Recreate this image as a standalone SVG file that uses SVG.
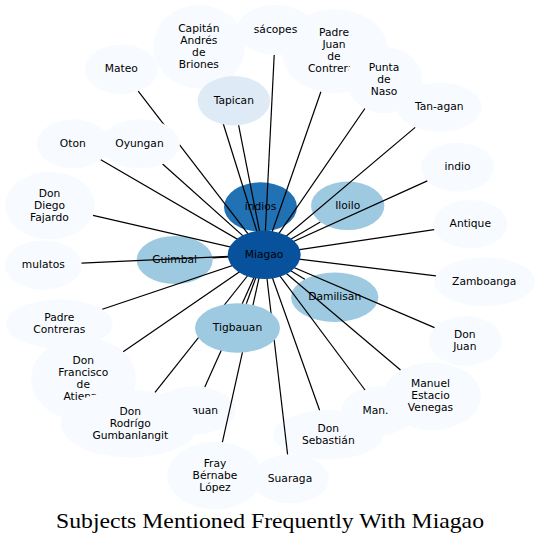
<svg xmlns="http://www.w3.org/2000/svg" width="540" height="544" viewBox="0 0 540 544">
<style>
.n text{font-family:"DejaVu Sans",Verdana,sans-serif;font-size:10.7px;fill:#000;text-anchor:middle}
.l{fill:#f7fbff}
.t{fill:#deebf7}
.m{fill:#9ecae1}
.d{fill:#2171b5}
.h{fill:#08519c}
#edges line{stroke:#000;stroke-width:1.2}
.title{font-family:"Liberation Serif","Times New Roman",serif;font-size:21px;fill:#000;text-anchor:middle}
</style>
<rect width="540" height="544" fill="#fff"/>
<g id="node-padre-juan" class="n"><ellipse class="l" cx="335" cy="51.3" rx="53.3" ry="42"/><text x="334" y="36.3">Padre</text><text x="334" y="48.3">Juan</text><text x="334" y="60.3">de</text><text x="334" y="72.3">Contreras</text></g>
<g id="node-sacopes" class="n"><ellipse class="l" cx="275.5" cy="30" rx="39" ry="25"/><text x="275.5" y="33">sácopes</text></g>
<g id="node-capitan" class="n"><ellipse class="l" cx="199.2" cy="46.8" rx="45.8" ry="41.8"/><text x="198.8" y="31.8">Capitán</text><text x="198.8" y="43.8">Andrés</text><text x="198.8" y="55.8">de</text><text x="198.8" y="67.8">Briones</text></g>
<g id="node-punta" class="n"><ellipse class="l" cx="384.5" cy="80" rx="37.8" ry="33.3"/><text x="384" y="71">Punta</text><text x="384" y="83">de</text><text x="384" y="95">Naso</text></g>
<g id="node-tan-agan" class="n"><ellipse class="l" cx="439.2" cy="107.2" rx="42.5" ry="24.5"/><text x="439.2" y="110.2">Tan-agan</text></g>
<g id="node-indio" class="n"><ellipse class="l" cx="457.5" cy="167.2" rx="36.5" ry="24.5"/><text x="457.5" y="170.2">indio</text></g>
<g id="node-antique" class="n"><ellipse class="l" cx="470.3" cy="224.2" rx="37" ry="24.2"/><text x="470.3" y="227.2">Antique</text></g>
<g id="node-zamboanga" class="n"><ellipse class="l" cx="484.7" cy="281.7" rx="50.3" ry="24.3"/><text x="484.2" y="284.7">Zamboanga</text></g>
<g id="node-don-juan" class="n"><ellipse class="l" cx="465.3" cy="340.8" rx="36.3" ry="24.8"/><text x="464.8" y="337.8">Don</text><text x="464.8" y="349.8">Juan</text></g>
<g id="node-man" class="n"><ellipse class="l" cx="378" cy="411" rx="36.5" ry="24.5"/><text x="375.5" y="414">Man.</text></g>
<g id="node-manuel" class="n"><ellipse class="l" cx="432" cy="396.2" rx="48.8" ry="33.8"/><text x="430.5" y="387.2">Manuel</text><text x="430.5" y="399.2">Estacio</text><text x="430.5" y="411.2">Venegas</text></g>
<g id="node-don-sebastian" class="n"><ellipse class="l" cx="328.3" cy="434.7" rx="55" ry="24.7"/><text x="328.3" y="431.7">Don</text><text x="328.3" y="443.7">Sebastián</text></g>
<g id="node-suaraga" class="n"><ellipse class="l" cx="290.5" cy="478.8" rx="38.5" ry="24.5"/><text x="290" y="481.8">Suaraga</text></g>
<g id="node-fray" class="n"><ellipse class="l" cx="215" cy="475.5" rx="47.7" ry="33.8"/><text x="215" y="466.5">Fray</text><text x="215" y="478.5">Bérnabe</text><text x="215" y="490.5">López</text></g>
<g id="node-tigbauan-2" class="n"><ellipse class="l" cx="193.4" cy="410.5" rx="42.5" ry="24"/><text x="193.4" y="413.5">Tigbauan</text></g>
<g id="node-don-francisco" class="n"><ellipse class="l" cx="83.5" cy="379" rx="52.5" ry="41.8"/><text x="83.3" y="364">Don</text><text x="83.3" y="376">Francisco</text><text x="83.3" y="388">de</text><text x="83.3" y="400">Atienza</text></g>
<g id="node-don-rodrigo" class="n"><ellipse class="l" cx="130" cy="423.7" rx="69.3" ry="33.7"/><text x="130.3" y="414.7">Don</text><text x="130.3" y="426.7">Rodrígo</text><text x="130.3" y="438.7">Gumbanlangit</text></g>
<g id="node-padre-contreras" class="n"><ellipse class="l" cx="59.3" cy="323.8" rx="53.3" ry="24.5"/><text x="59.3" y="320.8">Padre</text><text x="59.3" y="332.8">Contreras</text></g>
<g id="node-mulatos" class="n"><ellipse class="l" cx="43.3" cy="265" rx="38.3" ry="24.5"/><text x="43.3" y="268">mulatos</text></g>
<g id="node-don-diego" class="n"><ellipse class="l" cx="50" cy="205.5" rx="45" ry="33.8"/><text x="49.5" y="196.5">Don</text><text x="49.5" y="208.5">Diego</text><text x="49.5" y="220.5">Fajardo</text></g>
<g id="node-oton" class="n"><ellipse class="l" cx="73.2" cy="143.8" rx="36.5" ry="24.5"/><text x="72.8" y="146.8">Oton</text></g>
<g id="node-mateo" class="n"><ellipse class="l" cx="121.3" cy="69.2" rx="36.3" ry="24.8"/><text x="121.3" y="72.2">Mateo</text></g>
<g id="node-indios" class="n"><ellipse class="d" cx="260.5" cy="207" rx="36.5" ry="24.7"/><text x="260.5" y="210">indios</text></g>
<g id="node-iloilo" class="n"><ellipse class="m" cx="347.7" cy="205.8" rx="36.7" ry="24.2"/><text x="347.7" y="208.8">Iloilo</text></g>
<g id="node-guimbal" class="n"><ellipse class="m" cx="174.7" cy="260" rx="38" ry="24"/><text x="174.7" y="263">Guimbal</text></g>
<g id="node-damilisan" class="n"><ellipse class="m" cx="334.7" cy="297.3" rx="43.7" ry="24.7"/><text x="334.7" y="300.3">Damilisan</text></g>
<g id="edges">
<line x1="264.2" y1="254.8" x2="262.4" y2="231.7"/>
<line x1="264.2" y1="254.8" x2="320.3" y2="221.9"/>
<line x1="264.2" y1="254.8" x2="212.5" y2="257.8"/>
<line x1="264.2" y1="254.8" x2="246.3" y2="303.8"/>
<line x1="264.2" y1="254.8" x2="304.8" y2="279.3"/>
<line x1="264.2" y1="254.8" x2="238.6" y2="125.2"/>
<line x1="264.2" y1="254.8" x2="138.2" y2="91.2"/>
<line x1="264.2" y1="254.8" x2="211.8" y2="87.0"/>
<line x1="264.2" y1="254.8" x2="100.8" y2="159.8"/>
<line x1="264.2" y1="254.8" x2="162.6" y2="164.0"/>
<line x1="264.2" y1="254.8" x2="93.0" y2="215.4"/>
<line x1="264.2" y1="254.8" x2="81.5" y2="263.2"/>
<line x1="264.2" y1="254.8" x2="102.3" y2="309.3"/>
<line x1="264.2" y1="254.8" x2="123.2" y2="351.7"/>
<line x1="264.2" y1="254.8" x2="155.0" y2="392.3"/>
<line x1="264.2" y1="254.8" x2="204.8" y2="387.1"/>
<line x1="264.2" y1="254.8" x2="222.4" y2="442.1"/>
<line x1="264.2" y1="254.8" x2="287.6" y2="454.4"/>
<line x1="264.2" y1="254.8" x2="319.6" y2="410.3"/>
<line x1="264.2" y1="254.8" x2="365.0" y2="390.0"/>
<line x1="264.2" y1="254.8" x2="400.5" y2="370.0"/>
<line x1="264.2" y1="254.8" x2="434.5" y2="327.6"/>
<line x1="264.2" y1="254.8" x2="435.9" y2="275.8"/>
<line x1="264.2" y1="254.8" x2="434.2" y2="229.6"/>
<line x1="264.2" y1="254.8" x2="427.3" y2="180.9"/>
<line x1="264.2" y1="254.8" x2="415.2" y2="127.4"/>
<line x1="264.2" y1="254.8" x2="364.9" y2="108.5"/>
<line x1="264.2" y1="254.8" x2="320.9" y2="91.8"/>
<line x1="264.2" y1="254.8" x2="274.2" y2="55.0"/>
</g>
<g id="node-tapican" class="n"><ellipse class="t" cx="233.8" cy="100.7" rx="36.2" ry="24.7"/><text x="233.8" y="103.7">Tapican</text></g>
<g id="node-oyungan" class="n"><ellipse class="l" cx="140" cy="143.8" rx="40" ry="24.5"/><text x="139.5" y="146.8">Oyungan</text></g>
<g id="node-tigbauan" class="n"><ellipse class="m" cx="237.5" cy="328" rx="42.5" ry="24.7"/><text x="237.5" y="331">Tigbauan</text></g>
<g id="node-miagao" class="n"><ellipse class="h" cx="264.2" cy="254.8" rx="36.5" ry="24.2"/><text x="264" y="257.8">Miagao</text></g>
<text class="title" x="270" y="528" textLength="428" lengthAdjust="spacingAndGlyphs">Subjects Mentioned Frequently With Miagao</text>
</svg>
